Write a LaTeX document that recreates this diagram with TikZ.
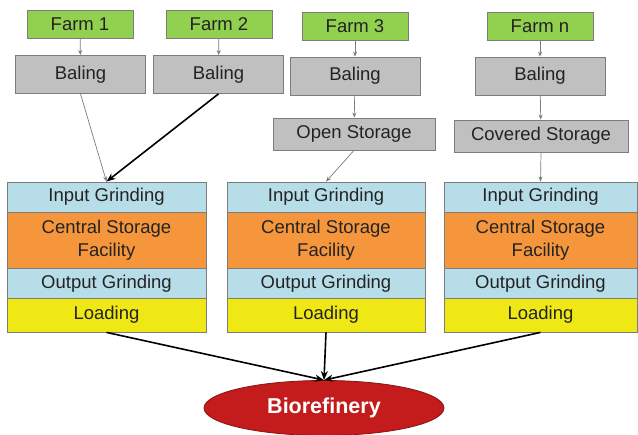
\documentclass[tikz,border=0pt]{standalone}
\usepackage{fontspec}
\setmainfont{Liberation Sans}
\usepackage{tikz}
\usetikzlibrary{shapes.geometric, arrows.meta, positioning}
\definecolor{farmgreen}{RGB}{146, 208, 80}
\definecolor{balegray}{RGB}{192, 192, 192}
\definecolor{grindblue}{RGB}{183, 222, 232}
\definecolor{storeorange}{RGB}{245, 150, 60}
\definecolor{loadyellow}{RGB}{240, 232, 20}
\definecolor{refinered}{RGB}{196, 28, 28}
\definecolor{edgegray}{RGB}{125, 125, 125}
\definecolor{textgray}{RGB}{35, 35, 35}

\tikzset{
    basebox/.style={draw=edgegray, line width=0.8pt, text=textgray, inner sep=0pt,
        font=\fontsize{18.5}{23}\selectfont, align=center},
    farm/.style={basebox, fill=farmgreen, minimum width=106pt, minimum height=28pt},
    baling/.style={basebox, fill=balegray, minimum width=130pt, minimum height=38pt},
    storebox/.style={basebox, fill=balegray, minimum height=32pt},
    grind/.style={basebox, fill=grindblue, minimum height=30pt},
    central/.style={basebox, fill=storeorange, minimum height=57pt},
    loadbox/.style={basebox, fill=loadyellow, minimum height=34pt},
    refinery/.style={ellipse, draw=refinered!70!black, line width=0.8pt, fill=refinered,
        text=white, font=\fontsize{21.5}{24}\selectfont\bfseries,
        minimum width=240pt, minimum height=55pt},
    thinarrow/.style={-{Stealth[length=5pt, width=4pt]}, edgegray, line width=0.7pt},
    thickarrow/.style={-{Stealth[length=9pt, width=7pt]}, black, line width=1.6pt}
}

\begin{document}
\begin{tikzpicture}[x=1pt, y=-1pt]
    % Background
    \fill[white] (0,0) rectangle (638,435);
    \useasboundingbox (0,0) rectangle (638,435);

    % Farms
    \node[farm] (farm1) at (80,24) {Farm 1};
    \node[farm] (farm2) at (219,24) {Farm 2};
    \node[farm] (farm3) at (355,26) {Farm 3};
    \node[farm] (farmn) at (540,26) {Farm n};

    % Baling
    \node[baling] (bale1) at (80.5,74.5) {Baling};
    \node[baling] (bale2) at (218.5,74.5) {Baling};
    \node[baling] (bale3) at (355,76) {Baling};
    \node[baling] (balen) at (540,76) {Baling};

    % Storage before the facility
    \node[storebox, minimum width=162pt] (open) at (354,134) {Open Storage};
    \node[storebox, minimum width=174pt] (covered) at (541,136) {Covered Storage};

    % Central storage facilities
    \foreach \n/\cx/\w in {1/106.5/199, 2/326/198, 3/540.5/193} {
        \node[grind, minimum width=\w pt] (in\n) at (\cx,197) {Input Grinding};
        \node[central, minimum width=\w pt] (csf\n) at (\cx,240.5) {Central Storage\\Facility};
        \node[grind, minimum width=\w pt] (out\n) at (\cx,283.5) {Output Grinding};
        \node[loadbox, minimum width=\w pt] (load\n) at (\cx,315) {Loading};
    }

    % Biorefinery
    \node[refinery] (bio) at (324,408) {Biorefinery};

    % Farm to baling
    \draw[thinarrow] (farm1) -- (bale1);
    \draw[thinarrow] (farm2) -- (bale2);
    \draw[thinarrow] (farm3) -- (bale3);
    \draw[thinarrow] (farmn) -- (balen);
    \draw[thinarrow] (bale3) -- (open);
    \draw[thinarrow] (balen) -- (covered);

    % Into the facilities
    \draw[thinarrow] (bale1.south) -- (in1.north);
    \draw[thickarrow] (bale2.south) -- (in1.north);
    \draw[thinarrow] (open.south) -- (in2.north);
    \draw[thinarrow] (covered.south) -- (in3.north);

    % To the biorefinery
    \draw[thickarrow] (load1.south) -- (bio.north);
    \draw[thickarrow] (load2.south) -- (bio.north);
    \draw[thickarrow] (load3.south) -- (bio.north);

\end{tikzpicture}
\end{document}
